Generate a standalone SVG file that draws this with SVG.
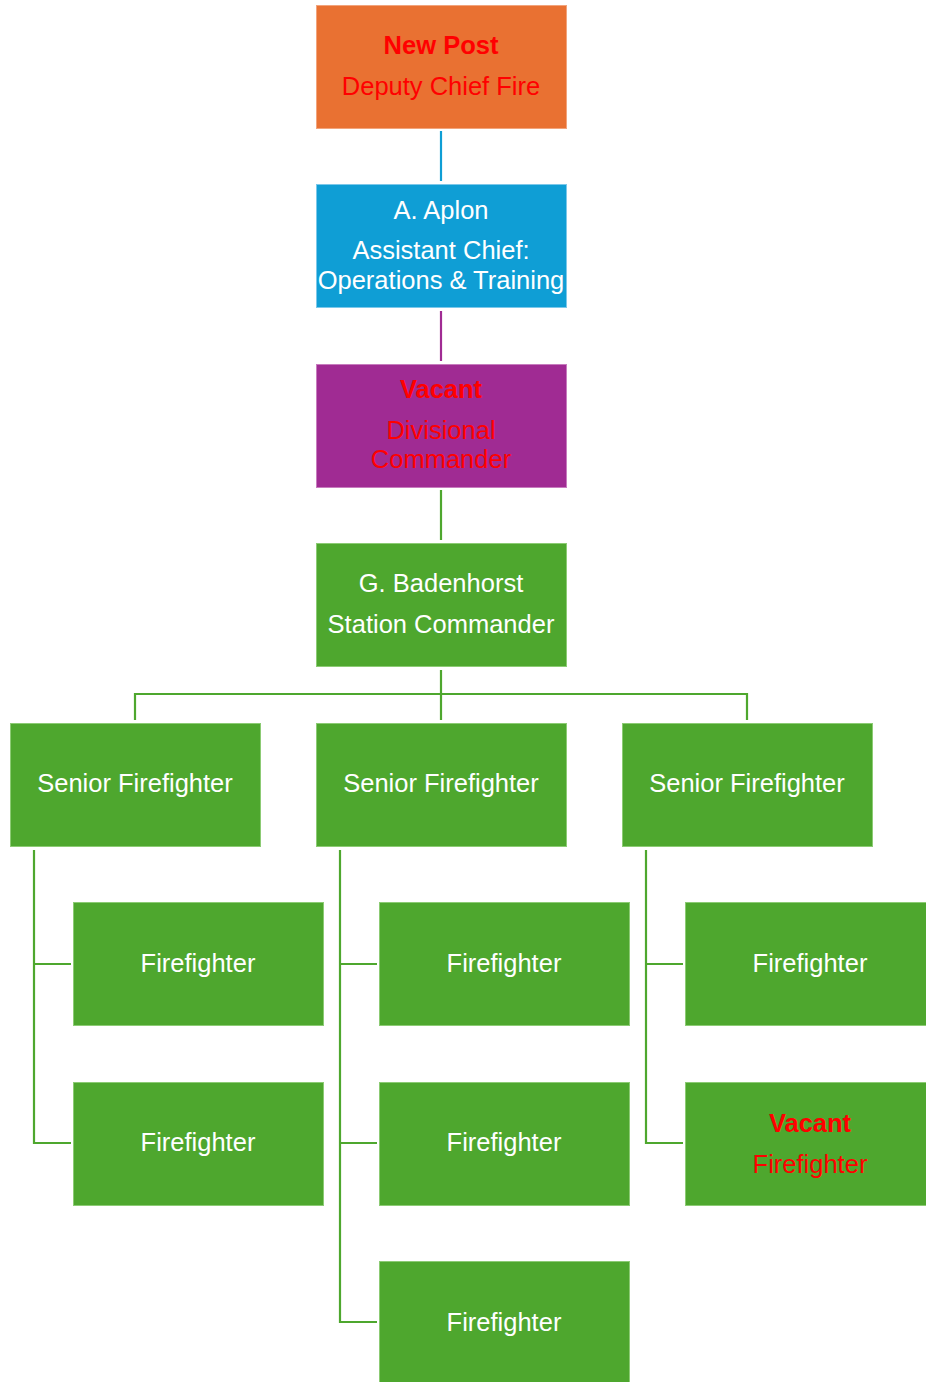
<svg xmlns="http://www.w3.org/2000/svg" width="926" height="1382" viewBox="0 0 926 1382">
<style>
.b{stroke-width:1;}
.o{fill:#E97132;stroke:#F2A47C;}
.bl{fill:#0F9ED5;stroke:#7CC8EA;}
.p{fill:#A02B93;stroke:#C77CBE;}
.g{fill:#4EA72E;stroke:#8CCB74;}
text{font-family:"Liberation Sans",Arial,sans-serif;font-size:25.5px;text-anchor:middle;fill:#ffffff;}
.r{fill:#FF0000;}
.bold{font-weight:bold;}
.c{fill:none;stroke-width:2.2;}
.cg{stroke:#4EA72E;}
</style>
<g id="connectors">
<line class="c" x1="441" y1="131" x2="441" y2="181" stroke="#0F9ED5"/>
<line class="c" x1="441" y1="311" x2="441" y2="361" stroke="#A02B93"/>
<line class="c cg" x1="441" y1="490" x2="441" y2="540"/>
<path class="c cg" d="M441 670 V720 M135 720 V694 H747 V720"/>
<path class="c cg" d="M34 850 V1143 H71 M34 964 H71"/>
<path class="c cg" d="M340 850 V1322 H377 M340 964 H377 M340 1143 H377"/>
<path class="c cg" d="M646 850 V1143 H683 M646 964 H683"/>
</g>
<g id="deputy-chief"><rect class="b o" x="316.5" y="5.5" width="250" height="123"/><text class="r bold" x="441" y="54">New Post</text><text class="r" x="441" y="95">Deputy Chief Fire</text></g>
<g id="assistant-chief"><rect class="b bl" x="316.5" y="184.5" width="250" height="123"/><text x="441" y="219">A. Aplon</text><text x="441" y="259">Assistant Chief:</text><text x="441" y="289">Operations &amp; Training</text></g>
<g id="divisional-commander"><rect class="b p" x="316.5" y="364.5" width="250" height="123"/><text class="r bold" x="441" y="398">Vacant</text><text class="r" x="441" y="439">Divisional</text><text class="r" x="441" y="468">Commander</text></g>
<g id="station-commander"><rect class="b g" x="316.5" y="543.5" width="250" height="123"/><text x="441" y="592">G. Badenhorst</text><text x="441" y="633">Station Commander</text></g>
<g id="senior-1"><rect class="b g" x="10.5" y="723.5" width="250" height="123"/><text x="135" y="792">Senior Firefighter</text></g>
<g id="senior-2"><rect class="b g" x="316.5" y="723.5" width="250" height="123"/><text x="441" y="792">Senior Firefighter</text></g>
<g id="senior-3"><rect class="b g" x="622.5" y="723.5" width="250" height="123"/><text x="747" y="792">Senior Firefighter</text></g>
<g id="ff-1a"><rect class="b g" x="73.5" y="902.5" width="250" height="123"/><text x="198" y="972">Firefighter</text></g>
<g id="ff-1b"><rect class="b g" x="73.5" y="1082.5" width="250" height="123"/><text x="198" y="1151">Firefighter</text></g>
<g id="ff-2a"><rect class="b g" x="379.5" y="902.5" width="250" height="123"/><text x="504" y="972">Firefighter</text></g>
<g id="ff-2b"><rect class="b g" x="379.5" y="1082.5" width="250" height="123"/><text x="504" y="1151">Firefighter</text></g>
<g id="ff-2c"><rect class="b g" x="379.5" y="1261.5" width="250" height="123"/><text x="504" y="1331">Firefighter</text></g>
<g id="ff-3a"><rect class="b g" x="685.5" y="902.5" width="250" height="123"/><text x="810" y="972">Firefighter</text></g>
<g id="ff-3b"><rect class="b g" x="685.5" y="1082.5" width="250" height="123"/><text class="r bold" x="810" y="1132">Vacant</text><text class="r" x="810" y="1173">Firefighter</text></g>
</svg>
